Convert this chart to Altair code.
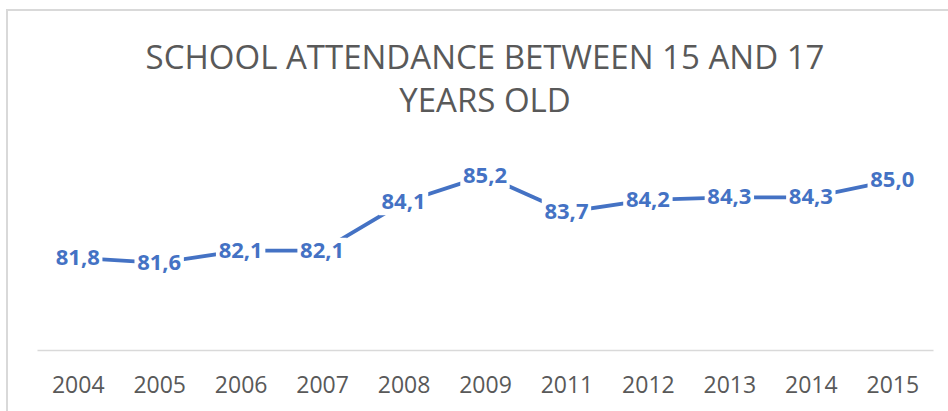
import altair as alt
import pandas as pd

years = ["2004", "2005", "2006", "2007", "2008", "2009", "2011", "2012", "2013", "2014", "2015"]
values = [81.8, 81.6, 82.1, 82.1, 84.1, 85.2, 83.7, 84.2, 84.3, 84.3, 85.0]
title_lines = ["SCHOOL ATTENDANCE BETWEEN 15 AND 17", "YEARS OLD"]

df = pd.DataFrame({"year": years, "value": values})

BLUE = "#4472C4"
GRAY = "#595959"

x_enc = alt.X("year:N", sort=years, title=None,
              scale=alt.Scale(paddingInner=1, paddingOuter=0.5),
              axis=alt.Axis(labelAngle=0, ticks=False, grid=False,
                            domainColor="#D9D9D9", domainWidth=1.5,
                            labelColor=GRAY, labelFontSize=23, labelFont="Open Sans",
                            labelPadding=24))
y_enc = alt.Y("value:Q", scale=alt.Scale(domain=[78, 87], nice=False, zero=False), axis=None)

base = alt.Chart(df).encode(x=x_enc, y=y_enc)

frame = alt.Chart(df).mark_rect(filled=False, stroke="#D9D9D9", strokeWidth=1.5).encode(
    x=alt.value(-30), x2=alt.value(1000), y=alt.value(-122), y2=alt.value(500)
)

line = base.mark_line(color=BLUE, strokeWidth=3.8)

boxes = base.mark_point(
    shape="M-1.9,-1L1.9,-1L1.9,1L-1.9,1Z", size=676, filled=True,
    fill="white", opacity=1, strokeWidth=0
)

labels = base.transform_calculate(
    lab="replace(format(datum.value, '.1f'), '.', ',')"
).mark_text(color=BLUE, fontSize=22, fontWeight="bold", font="Open Sans",
            align="center", baseline="middle").encode(text="lab:N")

chart = alt.layer(frame, line, boxes, labels).properties(
    width=896, height=218,
    title=alt.TitleParams(text=title_lines, fontSize=33, font="Open Sans",
                          fontWeight="normal", color=GRAY, anchor="middle",
                          lineHeight=43, offset=-110),
    autosize=alt.AutoSizeParams(type="none"),
    padding={"left": 37, "top": 132, "right": 15, "bottom": 61},
).configure(background="white").configure_view(stroke=None)

chart.save("out.html", embed_options={"renderer": "svg", "actions": False})
